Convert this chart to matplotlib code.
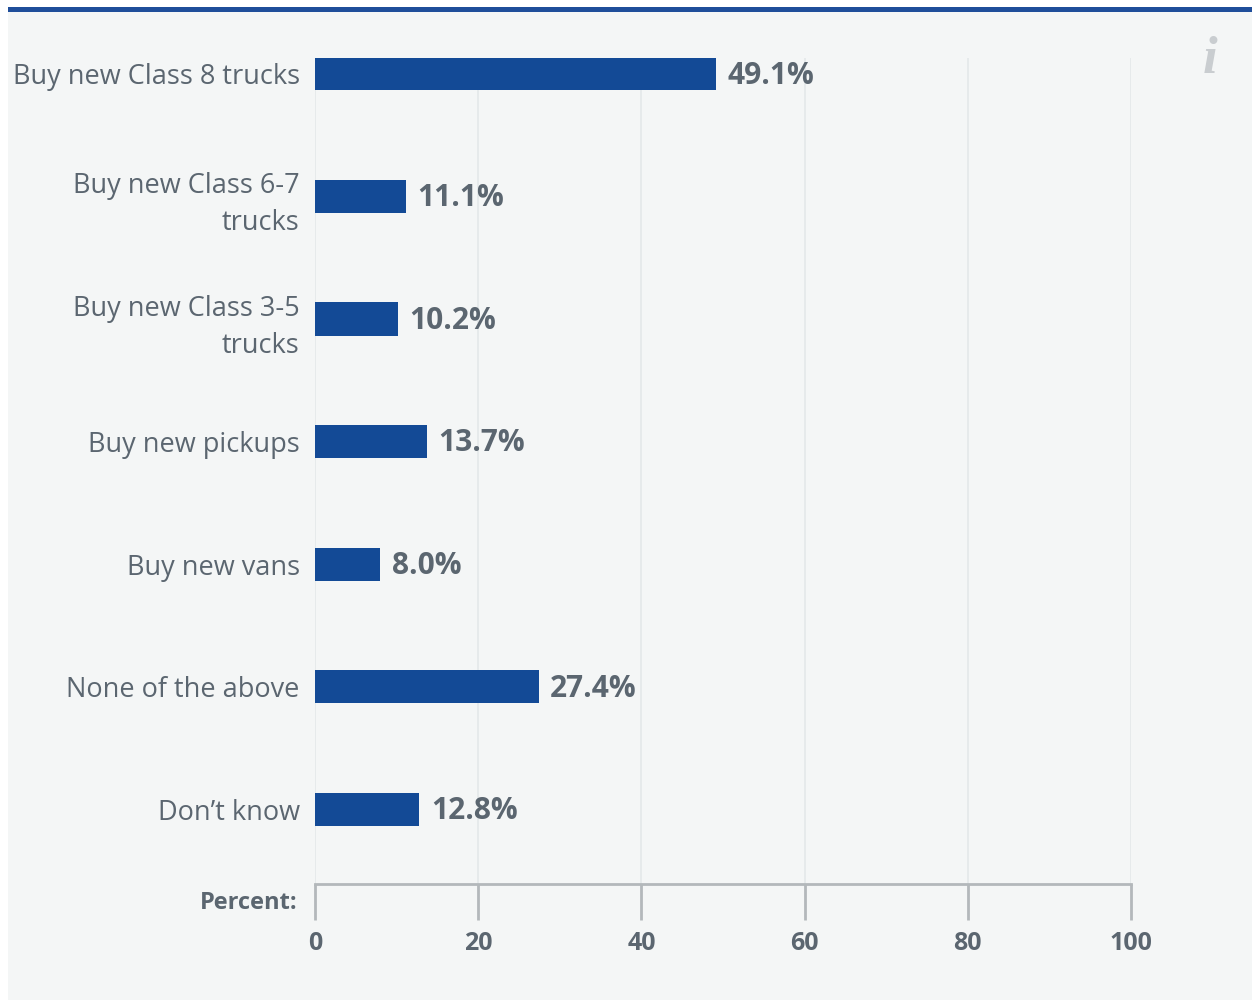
import matplotlib.pyplot as plt
from matplotlib.patches import Rectangle

# Survey answers and shares (percent)
categories = ["Buy new Class 8 trucks", "Buy new Class 6-7\ntrucks",
              "Buy new Class 3-5\ntrucks", "Buy new pickups", "Buy new vans",
              "None of the above", "Don\u2019t know"]
shares = [49.1, 11.1, 10.2, 13.7, 8.0, 27.4, 12.8]
x_ticks = [0, 20, 40, 60, 80, 100]

bar_color = "#134a96"
text_color = "#5b6670"
panel_color = "#f4f6f6"

plt.rcParams['font.family'] = ['Open Sans', 'DejaVu Sans']

fig = plt.figure(figsize=(12.52, 10), dpi=100, facecolor="white")

# background panel and top rule (kept behind the axes)
fig.patches.append(Rectangle((8 / 1252, 0), 1, 988 / 1000, transform=fig.transFigure,
                             facecolor=panel_color, edgecolor="none", zorder=-2))
fig.patches.append(Rectangle((8 / 1252, 988 / 1000), 1, 5 / 1000, transform=fig.transFigure,
                             facecolor="#1f4e9a", edgecolor="none", zorder=-2))

ax = fig.add_axes([315 / 1252, 116 / 1000, 816 / 1252, 826 / 1000])
ax.set_facecolor("none")

ypos = list(range(len(categories)))
ax.barh(ypos, shares, height=0.27, color=bar_color, zorder=3)
for y, v in zip(ypos, shares):
    ax.text(v + 1.4, y + 0.015, f"{v:.1f}%", va="center", ha="left", fontsize=21.5,
            fontweight="bold", color=text_color)

ax.set_xlim(0, 100)
ax.set_ylim(6.61, -0.13)
ax.set_yticks(ypos)
ax.set_yticklabels(categories, fontsize=19.5, color=text_color, linespacing=1.45)
ax.tick_params(axis="y", length=0, pad=11)

ax.set_xticks(x_ticks)
ax.set_xticklabels([str(t) for t in x_ticks], fontsize=18, fontweight="bold",
                   color=text_color)
ax.tick_params(axis="x", direction="out", length=26, width=2, color="#b3b8bb", pad=8)

ax.grid(axis="x", color="#e4e8e9", linewidth=1.2, zorder=0)
for side in ["top", "right", "left"]:
    ax.spines[side].set_visible(False)
ax.spines["bottom"].set_color("#b3b8bb")
ax.spines["bottom"].set_linewidth(2)

fig.text(297 / 1252, 1 - 903 / 1000, "Percent:", ha="right", va="center",
         fontsize=17, fontweight="bold", color=text_color)
fig.text(1210 / 1252, 1 - 60 / 1000, "i", ha="center", va="center", fontsize=38,
         style="italic", fontweight="bold", family="Liberation Serif", color="#c9cdd0")

fig.savefig("out.png", dpi=100, facecolor=fig.get_facecolor())
